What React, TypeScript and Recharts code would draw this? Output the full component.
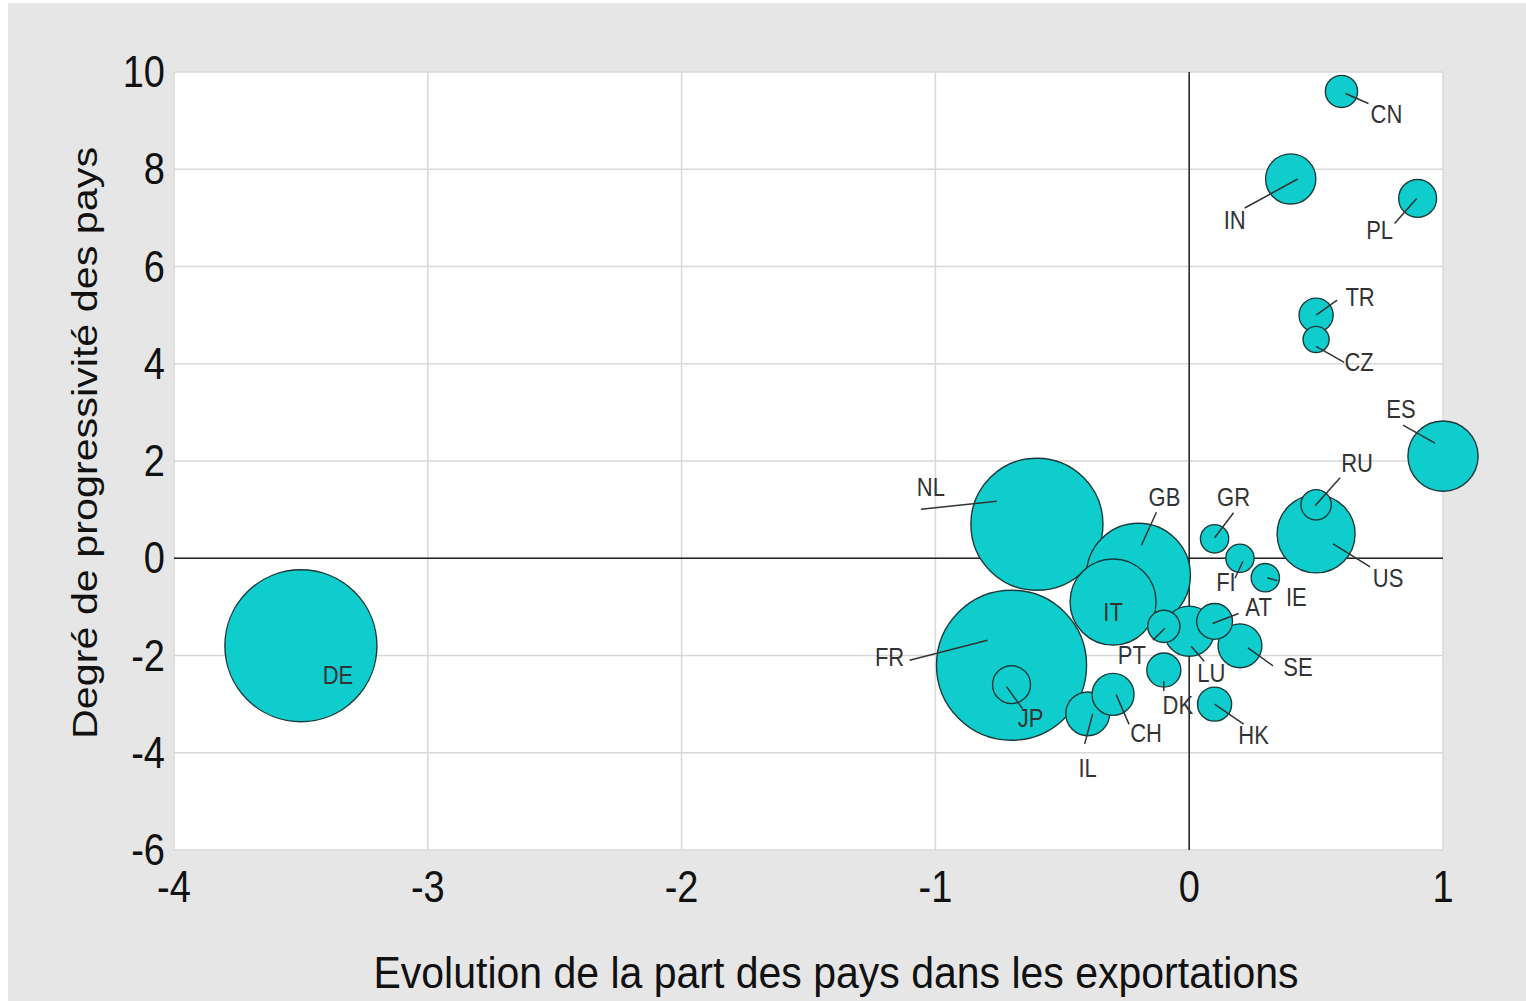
import React from 'react';
import { ScatterChart, Scatter, XAxis, YAxis, ZAxis, CartesianGrid, ReferenceLine } from 'recharts';

// ---- data ----
const countries = ['DE', 'NL', 'FR', 'GB', 'IT', 'JP', 'IL', 'CH', 'PT', 'DK', 'LU', 'AT', 'SE', 'HK', 'GR', 'FI', 'IE', 'US', 'RU', 'ES', 'CN', 'IN', 'PL', 'TR', 'CZ'];
const exportShareChange = [-3.5, -0.6, -0.7, -0.2, -0.3, -0.7, -0.4, -0.3, -0.1, -0.1, 0.0, 0.1, 0.2, 0.1, 0.1, 0.2, 0.3, 0.5, 0.5, 1.0, 0.6, 0.4, 0.9, 0.5, 0.5];
const progressivity = [-1.8, 0.7, -2.2, -0.35, -0.9, -2.6, -3.2, -2.8, -1.4, -2.3, -1.5, -1.3, -1.8, -3.0, 0.4, 0.0, -0.4, 0.5, 1.1, 2.1, 9.6, 7.8, 7.4, 5.0, 4.5];
const bubbleWeight = [57.8, 43.6, 56.3, 27.0, 18.5, 3.6, 4.8, 4.4, 2.6, 2.9, 6.3, 3.2, 4.8, 2.9, 2.0, 2.0, 2.0, 15.2, 2.3, 12.3, 2.6, 6.3, 3.6, 2.9, 1.7];
const xTicks = [-4, -3, -2, -1, 0, 1];
const yTicks = [-6, -4, -2, 0, 2, 4, 6, 8, 10];
const xTitle = 'Evolution de la part des pays dans les exportations';
const yTitle = 'Degré de progressivité des pays';

// label placement (pixel offsets from bubble centre): [line x1, y1, x2, y2, text x, text y]
const labelLayout: Record<string, (number | null)[]> = {
  CN: [4, 2, 27, 12, 45, 24],
  IN: [7, 0, -46, 29, -56, 42],
  PL: [-1, 0, -23, 25, -38, 33],
  TR: [0, 0, 21, -15, 44, -17],
  CZ: [0, 7, 28, 23, 43, 24],
  ES: [-8, -13, -40, -31, -42, -46],
  RU: [-1, 1, 24, -27, 41, -41],
  US: [17, 10, 54, 33, 72, 45],
  GR: [0, -1, 19, -26, 19, -41],
  FI: [3, 3, -5, 20, -14, 25],
  IE: [2, 0, 12, 3, 31, 20],
  AT: [-2, 2, 24, -8, 44, -13],
  SE: [8, 2, 33, 20, 58, 22],
  HK: [0, 0, 29, 20, 39, 32],
  LU: [2, 15, 15, 30, 22, 43],
  DK: [0, 11, 0, 21, 14, 36],
  PT: [1, 2, -11, 14, -32, 30],
  CH: [3, 0, 16, 30, 33, 40],
  IL: [5, 0, -3, 30, 0, 55],
  JP: [-5, 2, 11, 24, 19, 34],
  FR: [-24, -25, -102, -5, -122, -7],
  IT: [null, null, null, null, 0, 11],
  NL: [-40, -23, -116, -15, -106, -36],
  GB: [3, -30, 18, -63, 26, -77],
  DE: [null, null, null, null, 37, 30],
};

const data = countries
  .map((code, i) => ({ code, x: exportShareChange[i], y: progressivity[i], z: bubbleWeight[i] }))
  .sort((a, b) => b.z - a.z);

// ---- layout ----
const W = 1518;
const H = 998;
const M = { top: 69, right: 83, bottom: 91, left: 6 };
const Y_AXIS_W = 160;
const X_AXIS_H = 60;
const PLOT_LEFT = M.left + Y_AXIS_W;
const PLOT_BOTTOM = H - M.bottom - X_AXIS_H;
const FONT = '"Liberation Sans", Arial, sans-serif';

const Bubble = (props: any) => {
  const { cx, cy, size, width } = props;
  const r = width ? width / 2 : Math.sqrt(Math.max(size || 0, 0) / Math.PI);
  return <circle cx={cx} cy={cy} r={r} fill="#0fcdcd" stroke="#1b3a3a" strokeWidth={1.4} />;
};

const LabelMark = (props: any) => {
  const { cx, cy, payload } = props;
  const l = labelLayout[payload.code];
  if (!l) return <g />;
  const [x1, y1, x2, y2, tx, ty] = l as number[];
  return (
    <g>
      {x1 !== null && (
        <line x1={cx + x1} y1={cy + y1} x2={cx + x2} y2={cy + y2} stroke="#333" strokeWidth={1.5} />
      )}
      <text
        transform={`translate(${cx + tx},${cy + ty + 8}) scale(1,1.14)`}
        textAnchor="middle"
        fontSize={22}
        fill="#333"
        fontFamily={FONT}
      >
        {payload.code}
      </text>
    </g>
  );
};

const XTick = (props: any) => {
  const { x, payload } = props;
  return (
    <text
      transform={`translate(${x},${PLOT_BOTTOM + 52}) scale(1,1.17)`}
      textAnchor="middle"
      fontSize={38}
      fill="#111"
      fontFamily={FONT}
    >
      {payload.value}
    </text>
  );
};

const YTick = (props: any) => {
  const { y, payload } = props;
  return (
    <text
      transform={`translate(${PLOT_LEFT - 9},${y + 15}) scale(1,1.17)`}
      textAnchor="end"
      fontSize={38}
      fill="#111"
      fontFamily={FONT}
    >
      {payload.value}
    </text>
  );
};

export default function App() {
  return (
    <div style={{ position: 'absolute', left: 8, top: 3, width: W, height: H, background: '#e6e6e6', overflow: 'hidden' }}>
      <ScatterChart width={W} height={H} margin={M}>
        <CartesianGrid fill="#ffffff" stroke="#d8d8d8" strokeWidth={1.5} />
        <XAxis
          type="number"
          dataKey="x"
          domain={[-4, 1]}
          ticks={xTicks}
          axisLine={false}
          tickLine={false}
          height={X_AXIS_H}
          tick={<XTick />}
          interval={0}
        />
        <YAxis
          type="number"
          dataKey="y"
          domain={[-6, 10]}
          ticks={yTicks}
          axisLine={false}
          tickLine={false}
          width={Y_AXIS_W}
          tick={<YTick />}
          interval={0}
        />
        <ZAxis type="number" dataKey="z" domain={[0, 100]} range={[0, Math.PI * 10000]} />
        <ReferenceLine x={0} stroke="#222" strokeWidth={1.5} />
        <ReferenceLine y={0} stroke="#222" strokeWidth={1.5} />
        <Scatter data={data} shape={<Bubble />} isAnimationActive={false} />
        <Scatter data={data} shape={<LabelMark />} isAnimationActive={false} />
        <text
          transform={`translate(828,985) scale(1,1.08)`}
          textAnchor="middle"
          fontSize={41}
          fill="#111"
          fontFamily={FONT}
        >
          {xTitle}
        </text>
        <text
          transform={`translate(77,440) scale(1.0,1.18) rotate(-90)`}
          textAnchor="middle"
          dominantBaseline="central"
          fontSize={35}
          fill="#111"
          fontFamily={FONT}
        >
          {yTitle}
        </text>
      </ScatterChart>
    </div>
  );
}
